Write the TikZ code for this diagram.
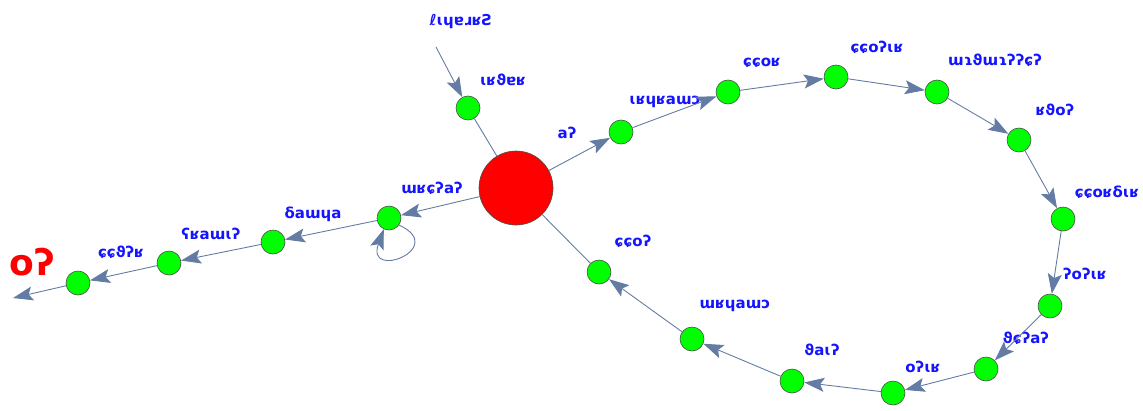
\documentclass[tikz,border=0pt]{standalone}
\usepackage{fontspec}
\setmainfont{DejaVu Sans}
\usetikzlibrary{arrows.meta}
\definecolor{edgec}{RGB}{100,124,163}
\definecolor{vgreen}{RGB}{0,255,0}
\definecolor{vred}{RGB}{255,0,0}
\definecolor{lblue}{RGB}{20,20,255}
\tikzset{
  gv/.style={circle,draw=black!70,line width=0.6pt,fill=vgreen,minimum size=24pt,inner sep=0pt},
  rv/.style={circle,draw=black!70,line width=0.6pt,fill=vred,minimum size=74pt,inner sep=0pt},
  lbl/.style={text=lblue,font=\bfseries\fontsize{15}{15}\selectfont,inner sep=0pt},
  arr/.style={draw=edgec,line width=0.9pt,-{Stealth[length=20pt,width=14pt,inset=4pt]}},
  ln/.style={draw=edgec,line width=0.9pt}
}
\begin{document}
\begin{tikzpicture}[x=1pt,y=-1pt]
\useasboundingbox (0,0) rectangle (1143,410);
% vertices
\node[rv] (c) at (516,188) {};
\node[gv] (t) at (468,108) {};
\node[gv] (r1) at (621,132) {};
\node[gv] (r2) at (728,92) {};
\node[gv] (r3) at (836,77) {};
\node[gv] (r4) at (937,92) {};
\node[gv] (r5) at (1019,140) {};
\node[gv] (r6) at (1063,219) {};
\node[gv] (r7) at (1050,306) {};
\node[gv] (r8) at (986,369) {};
\node[gv] (r9) at (893,393) {};
\node[gv] (r10) at (792,381) {};
\node[gv] (r11) at (692,339) {};
\node[gv] (r12) at (599,272) {};
\node[gv] (l1) at (389,218) {};
\node[gv] (l2) at (273,242) {};
\node[gv] (l3) at (169,263) {};
\node[gv] (l4) at (78,283) {};
\coordinate (ts) at (436,47);
\coordinate (le) at (13,298);
% labels
\node[lbl] (Lts) at (461,22) {ℓɩɥɐɹʁƧ};
\node[lbl] (Lt) at (503,80) {ɩʁϑɐʁ};
\node[lbl] (Lc) at (567,133) {aʔ};
\node[lbl] (L1) at (665,102) {ɩʁɥʁaɯɔ};
\node[lbl] (L2) at (762,63) {ɕɕoʁ};
\node[lbl] (L3) at (877,47) {ɕɕoʔɩʁ};
\node[lbl] (L4) at (995,60) {ɯɿϑɯɿʔʔɕʔ};
\node[lbl] (L5) at (1055,110) {ʁϑoʔ};
\node[lbl] (L6) at (1107,192) {ɕɕoʁδɩʁ};
\node[lbl] (L7) at (1085,274) {ʔoʔɩʁ};
\node[lbl] (L8) at (1026,338) {ϑɕʔaʔ};
\node[lbl] (L9) at (923,367) {oʔɩʁ};
\node[lbl] (L10) at (822,350) {ϑaɩʔ};
\node[lbl] (L11) at (735,306) {ɯʁɥaɯɔ};
\node[lbl] (L12) at (633,241) {ɕɕoʔ};
\node[lbl] (Ll1) at (432,188) {ɯʁɕʔaʔ};
\node[lbl] (Ll2) at (313,214) {δaɯɥa};
\node[lbl] (Ll3) at (211,234) {ʕʁaɯɩʔ};
\node[lbl] (Ll4) at (121,252) {ɕɕϑʔʁ};
\node[text=vred,font=\bfseries\fontsize{36}{36}\selectfont,inner sep=0pt] (Lle) at (32,262) {oʔ};
% edges
\draw[arr] (ts) -- (t);
\draw[ln] (t) -- (c);
\draw[arr] (c) -- (r1);
\draw[arr] (r1) -- (r2);
\draw[arr] (r2) -- (r3);
\draw[arr] (r3) -- (r4);
\draw[arr] (r4) -- (r5);
\draw[arr] (r5) -- (r6);
\draw[arr] (r6) -- (r7);
\draw[arr] (r7) -- (r8);
\draw[arr] (r8) -- (r9);
\draw[arr] (r9) -- (r10);
\draw[arr] (r10) -- (r11);
\draw[arr] (r11) -- (r12);
\draw[ln] (r12) -- (c);
\draw[arr] (c) -- (l1);
\draw[arr] (l1.-35) .. controls +(25:55) and +(110:55) .. (l1.-115);
\draw[arr] (l1) -- (l2);
\draw[arr] (l2) -- (l3);
\draw[arr] (l3) -- (l4);
\draw[arr] (l4) -- (le);
\end{tikzpicture}
\end{document}
